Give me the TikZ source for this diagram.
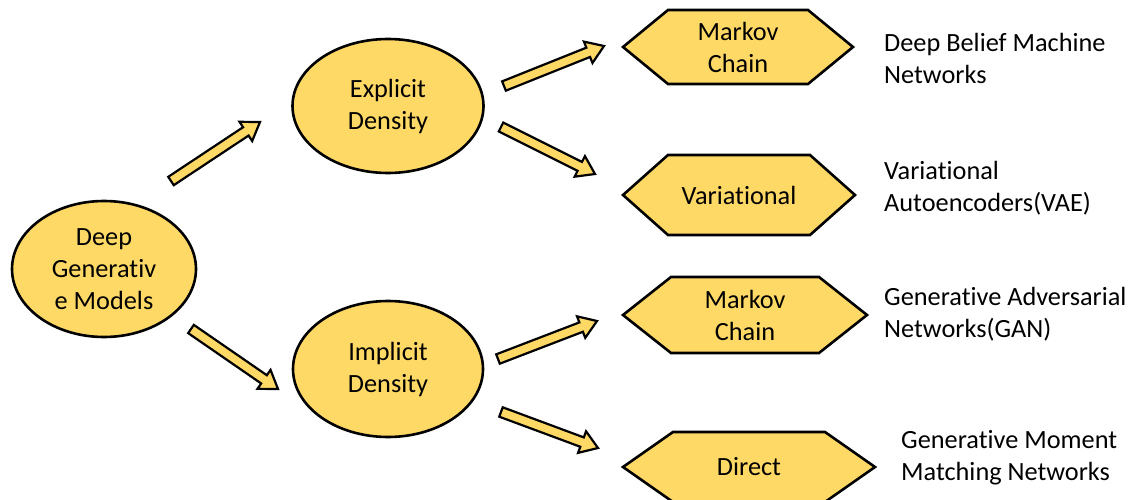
\documentclass[tikz,border=0pt]{standalone}
\usepackage{fontspec}
\setmainfont{Carlito}[Ligatures=NoCommon]
\usetikzlibrary{calc,shapes.geometric}
\definecolor{gold}{RGB}{255,217,102}
\tikzset{
  txt/.style={font=\fontsize{26.3}{32}\selectfont},
  oval/.style={ellipse, draw=black, line width=2.6pt, fill=gold, inner sep=0pt, align=center, txt},
  hexbody/.style={draw=black, line width=2.6pt, fill=gold, line join=miter},
  hexlabel/.style={align=center, inner sep=0pt, txt},
  blockarrow/.style={draw=black, line width=2.2pt, fill=gold, line join=miter},
  side/.style={anchor=west, align=left, inner sep=0pt, txt}
}
\newcommand\hexnode[7]{%
  \draw[hexbody] ({#2-#4},{#3}) -- ({#2-#4+#6},{#3-#5}) -- ({#2+#4-#6},{#3-#5}) -- ({#2+#4},{#3})
     -- ({#2+#4-#6},{#3+#5}) -- ({#2-#4+#6},{#3+#5}) -- cycle;
  \node[hexlabel] (#1) at (#2,#3) {#7};}
\newcommand\blockarr[2]{%
  \coordinate (#1h) at ($(#2)!17pt!(#1)$);
  \draw[blockarrow] ($(#1)!5pt!90:(#2)$) -- ($(#1h)!5pt!90:(#2)$) -- ($(#1h)!11.5pt!90:(#2)$)
     -- (#2) -- ($(#1h)!11.5pt!-90:(#2)$) -- ($(#1h)!5pt!-90:(#2)$) -- ($(#1)!5pt!-90:(#2)$) -- cycle;}
\begin{document}
\begin{tikzpicture}[x=1pt,y=-1pt]
\useasboundingbox (0,0) rectangle (1140,500);
% ellipses
\node[oval, minimum width=184pt, minimum height=136pt] (dgm) at (104,269) {Deep\\Generativ\\e Models};
\node[oval, minimum width=191pt, minimum height=134pt] (exp) at (388,106) {Explicit\\Density};
\node[oval, minimum width=190pt, minimum height=136pt] (imp) at (388,369) {Implicit\\Density};
% hexagons
\hexnode{mc1}{738}{47}{115}{37}{45}{Markov\\Chain}
\hexnode{var}{739}{195}{116}{40}{45}{Variational}
\hexnode{mc2}{745}{315}{122}{38}{48}{Markov\\Chain}
\hexnode{dir}{749}{467}{126}{35}{50}{Direct}
% arrow end points
\coordinate (a1s) at (171,181); \coordinate (a1e) at (260,122);
\coordinate (a2s) at (191,329); \coordinate (a2e) at (278,389);
\coordinate (a3s) at (504,86);  \coordinate (a3e) at (604,46);
\coordinate (a4s) at (501,127); \coordinate (a4e) at (595,174);
\coordinate (a5s) at (498,359); \coordinate (a5e) at (597,321);
\coordinate (a6s) at (501,412); \coordinate (a6e) at (598,448);
\blockarr{a1s}{a1e}
\blockarr{a2s}{a2e}
\blockarr{a3s}{a3e}
\blockarr{a4s}{a4e}
\blockarr{a5s}{a5e}
\blockarr{a6s}{a6e}
% side labels
\node[side] (t1) at (884,58) {Deep Belief Machine\\Networks};
\node[side] (t2) at (884,188) {Variational\\Autoencoders(VAE)};
\node[side] (t3) at (884,314) {Generative Adversarial\\Networks(GAN)};
\node[side] (t4) at (901,458) {Generative Moment\\Matching Networks};
\end{tikzpicture}
\end{document}
